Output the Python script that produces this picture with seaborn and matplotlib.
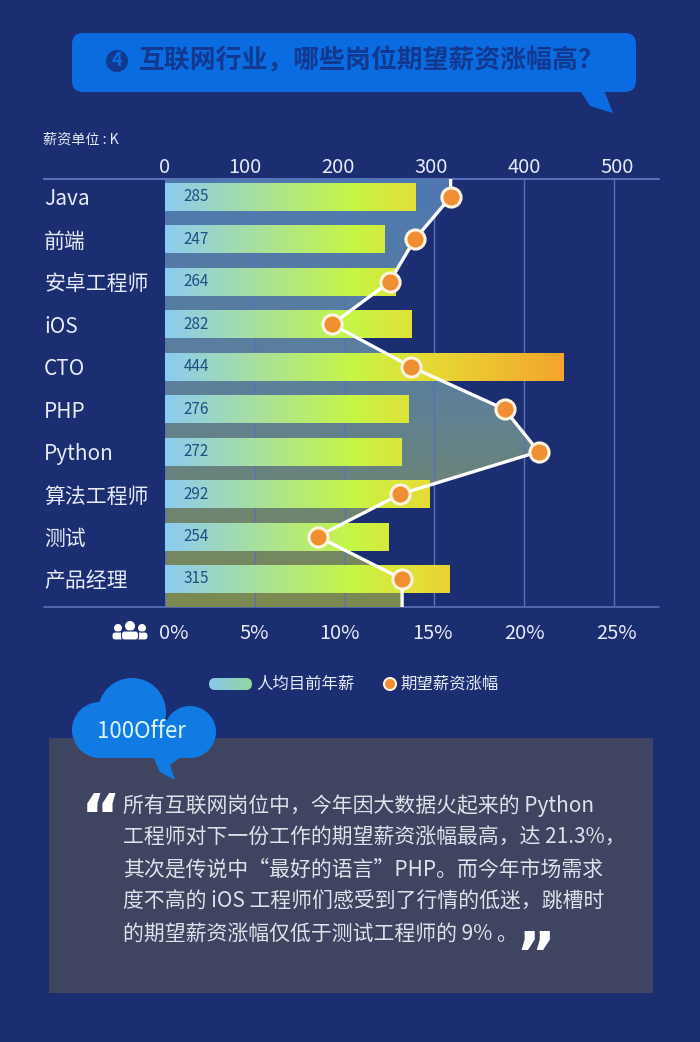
import numpy as np
import pandas as pd
import matplotlib
matplotlib.use('Agg')
import matplotlib.pyplot as plt
import seaborn as sns
from matplotlib.colors import LinearSegmentedColormap
from matplotlib.patches import Circle, FancyBboxPatch, Polygon, Rectangle
from matplotlib.transforms import ScaledTranslation

# dati
jobs = ['Java', '前端', '安卓工程师', 'iOS', 'CTO', 'PHP', 'Python', '算法工程师', '测试', '产品经理']
salary_labels = [285, 247, 264, 282, 444, 276, 272, 292, 254, 315]
bar_lengths = [279, 244, 257, 275, 444, 271, 263, 294, 249, 317]
raise_pct = [15.9, 13.9, 12.5, 9.3, 13.7, 18.9, 20.8, 13.1, 8.5, 13.2]
salary_ticks = [0, 100, 200, 300, 400, 500]
pct_ticks = [0, 5, 10, 15, 20, 25]

# virgola e punto interrogativo a tutta larghezza
COMMA = '\uff0c'
QMARK = '\uff1f'
title = f'互联网行业{COMMA}哪些岗位期望薪资涨幅高{QMARK}'
unit_note = '薪资单位 : K'
legend_labels = ['人均目前年薪', '期望薪资涨幅']
comment_lines = [
    f'所有互联网岗位中{COMMA}今年因大数据火起来的 Python',
    f'工程师对下一份工作的期望薪资涨幅最高{COMMA}达 21.3%{COMMA}',
    '其次是传说中“最好的语言”PHP。而今年市场需求',
    f'度不高的 iOS 工程师们感受到了行情的低迷{COMMA}跳槽时',
    '的期望薪资涨幅仅低于测试工程师的 9% 。',
]

BG = '#1b2e72'
GRID = '#5a70b8'
TEXT = '#e6eaf4'
BLUE = '#0b6be0'
ORANGE = '#ef8f32'
CREAM = '#fdf3df'
CLOUD = '#127be3'

sns.set_theme(style='white')
plt.rcParams['font.family'] = ['Noto Sans CJK SC', 'DejaVu Sans']
plt.rcParams['axes.unicode_minus'] = False

fig = plt.figure(figsize=(7, 10.42), dpi=100, facecolor=BG)

# livello di sfondo in pixel, per le decorazioni
deco = fig.add_axes([0, 0, 1, 1], zorder=0)
deco.axis('off')

# fumetto del titolo
deco.add_patch(FancyBboxPatch((80, 41), 548, 43, boxstyle='round,pad=8,rounding_size=11', fc=BLUE, ec='none'))
deco.add_patch(Polygon([(580, 90), (590, 106), (613, 113), (604, 90)], fc=BLUE, ec='none'))
deco.add_patch(Circle((117, 61), 11, fc='#12388f', ec='none'))
deco.text(117, 61, '4', color=BLUE, fontsize=13, fontweight='bold', ha='center', va='center')
deco.text(139, 61, title, color='#12388f', fontsize=18.6, fontweight='bold', ha='left', va='center')

deco.text(43, 140, unit_note, color=TEXT, fontsize=10.2, ha='left', va='center')

# linee orizzontali che chiudono il grafico
deco.plot([44, 659], [179, 179], color=GRID, lw=1.5)
deco.plot([44, 659], [607, 607], color=GRID, lw=1.2)

# icona persone
for cx, r, hy, w in [(118, 4, 628, 12), (142, 4, 628, 12), (130, 5, 626, 17)]:
    deco.add_patch(Circle((cx, hy), r, fc='white', ec='none'))
    deco.add_patch(FancyBboxPatch((cx - w / 2 + 2, hy + r + 2), w - 4, 640 - hy - r - 4,
                                  boxstyle='round,pad=2,rounding_size=3', fc='white', ec=BG, lw=0.8))

# legenda
swatch = FancyBboxPatch((214, 683), 33, 2, boxstyle='round,pad=5,rounding_size=6', fc='none', ec='none')
deco.add_patch(swatch)
swatch_cmap = LinearSegmentedColormap.from_list('swatch', ['#8cc6ec', '#90d8a0'])
im = deco.imshow(np.linspace(0, 1, 64).reshape(1, -1), cmap=swatch_cmap, extent=[209, 252, 690, 678], aspect='auto')
im.set_clip_path(swatch.get_path(), deco.transData)
deco.text(256, 684, legend_labels[0], color=TEXT, fontsize=11.8, ha='left', va='center')
deco.add_patch(Circle((390, 684), 6, fc=ORANGE, ec=CREAM, lw=1.5))
deco.text(400, 684, legend_labels[1], color=TEXT, fontsize=11.8, ha='left', va='center')

# riquadro del commento
deco.add_patch(Rectangle((49, 738), 604, 255, fc='#3f4561', ec='none'))
for i, line in enumerate(comment_lines):
    deco.text(123, 806 + i * 32, line, color='#dfe2ea', fontsize=15, ha='left', va='center')
deco.text(81, 820.5, '“', color='white', fontsize=44, fontweight='bold', family='DejaVu Sans', ha='left', va='center')
deco.text(515, 959, '”', color='white', fontsize=44, fontweight='bold', family='DejaVu Sans', ha='left', va='center')

# nuvola del logo
for cx, cy, r in [(132, 712, 34), (100, 730, 28), (190, 732, 26), (150, 735, 22)]:
    deco.add_patch(Circle((cx, cy), r, fc=CLOUD, ec='none'))
deco.add_patch(Rectangle((100, 730), 90, 28, fc=CLOUD, ec='none'))
deco.add_patch(Polygon([(150, 750), (160, 772), (175, 780), (170, 765), (190, 750)], fc=CLOUD, ec='none'))
deco.text(141, 731, '100Offer', color='#d8f6f4', fontsize=16, fontweight='medium', ha='center', va='center')

deco.set_xlim(0, 700)
deco.set_ylim(1042, 0)

# grafico
ax = fig.add_axes([165 / 700, 1 - 607 / 1042, 494 / 700, 428 / 1042], zorder=1)
ax.patch.set_alpha(0)
df = pd.DataFrame({'job': jobs, 'length': bar_lengths, 'pct': raise_pct})
sns.barplot(data=df, x='length', y='job', orient='h', width=0.66, color='#8ccbf2', ax=ax, zorder=3)

ymin, ymax = 9.66, -0.424
xmax = 550

# gradiente delle barre, fisso sull'asse x
bar_cmap = LinearSegmentedColormap.from_list('bars', [(0, '#8ccbf2'), (0.47, '#c6f645'), (0.65, '#e6dc35'), (1, '#f5a52c')])
grad = np.linspace(0, 1, 256).reshape(1, -1)
for patch in list(ax.patches):
    im = ax.imshow(grad, cmap=bar_cmap, extent=[0, max(bar_lengths), ymin, ymax], aspect='auto', zorder=3)
    im.set_clip_path(patch)
    patch.set_facecolor('none')
    patch.set_edgecolor('none')

for i, v in enumerate(salary_labels):
    ax.text(21, i, str(v), color='#1c4f84', fontsize=11, ha='left', va='center', zorder=4)

# area sotto la linea, con gradiente verticale
line_y = np.r_[ymax, np.arange(len(jobs)), ymin]
line_x = np.r_[raise_pct[0], raise_pct, raise_pct[-1]]
scale = salary_ticks[-1] / pct_ticks[-1]
area = ax.fill_betweenx(line_y, 0, line_x * scale, color='none', zorder=1)
area_cmap = LinearSegmentedColormap.from_list('area', ['#4e78b0', '#5d8099', '#7d8a50'])
im = ax.imshow(np.linspace(0, 1, 256).reshape(-1, 1), cmap=area_cmap, extent=[0, xmax, ymin, ymax], aspect='auto', zorder=1)
im.set_clip_path(area.get_paths()[0], ax.transData)

ax.set_xlim(0, xmax)
ax.set_ylim(ymin, ymax)
ax.set_xticks(salary_ticks)
ax.set_xlabel('')
ax.set_ylabel('')
ax.grid(axis='x', color=GRID, lw=1)
ax.set_axisbelow(False)
for line in ax.get_xgridlines():
    line.set_zorder(2)
sns.despine(ax=ax, left=True, bottom=True, top=True, right=True)
ax.tick_params(axis='y', length=0, pad=87, labelsize=15, labelcolor=TEXT)
for label in ax.get_yticklabels():
    label.set_ha('left')

# seconda scala: percentuale
ax2 = ax.twiny()
ax2.set_zorder(2)
ax2.patch.set_alpha(0)
line_df = pd.DataFrame({'pct': line_x, 'row': line_y})
sns.lineplot(data=line_df, x='pct', y='row', sort=False, orient='y', color='white', lw=2.4, ax=ax2, zorder=3)
sns.scatterplot(data=df.assign(row=range(len(df))), x='pct', y='row', s=190, color=ORANGE, edgecolor=CREAM, linewidth=2.2, ax=ax2, zorder=4, clip_on=False)
ax2.set_xlim(0, xmax / scale)
ax2.set_ylim(ymin, ymax)
ax2.set_xticks(pct_ticks)
ax2.set_xticklabels([f'{p}%' for p in pct_ticks])
ax2.xaxis.tick_bottom()
ax2.set_xlabel('')
ax2.set_ylabel('')
ax2.tick_params(axis='x', length=0, pad=11.5, labelsize=14.4, labelcolor=TEXT)
ax2.tick_params(axis='y', left=False, right=False, labelleft=False, labelright=False)
for side in ax2.spines.values():
    side.set_visible(False)

# la scala dei salari va in alto (dopo twiny)
ax.xaxis.tick_top()
ax.tick_params(axis='x', length=0, pad=1, labelsize=14.4, labelcolor=TEXT)

# etichette un po' spostate rispetto alle griglie, come nell'originale
top_shift = [0, -10, -7, -3, 0, 3]
for tick, dx in zip(ax.xaxis.get_major_ticks(), top_shift):
    tick.label2.set_transform(tick.label2.get_transform() + ScaledTranslation(dx / 100, 0, fig.dpi_scale_trans))
bottom_shift = [9, -1, -5, -2, 0, 2]
for tick, dx in zip(ax2.xaxis.get_major_ticks(), bottom_shift):
    tick.label1.set_transform(tick.label1.get_transform() + ScaledTranslation(dx / 100, 0, fig.dpi_scale_trans))

fig.savefig('out.png', dpi=100, facecolor=BG)
